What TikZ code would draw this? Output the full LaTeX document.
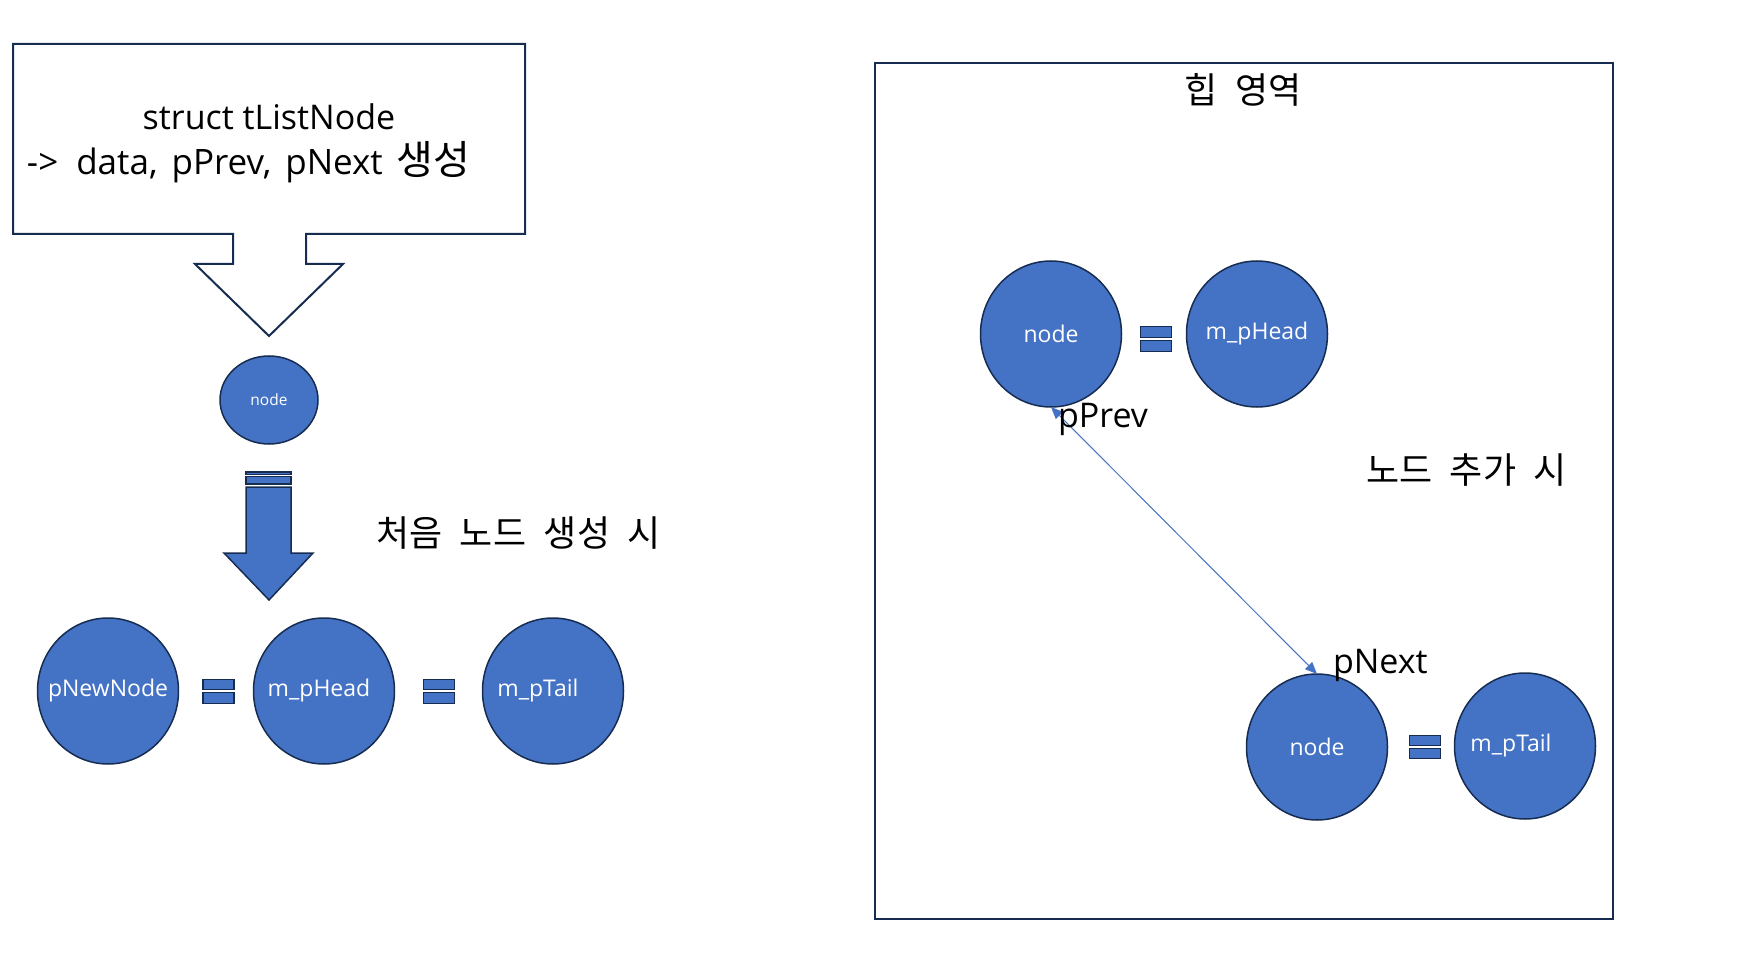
\documentclass[tikz,border=0pt]{standalone}
\usepackage{fontspec}
\setmainfont{Open Sans}
\newfontfamily\kr[WordSpace=2.2]{Noto Sans CJK KR}
\usetikzlibrary{arrows.meta,shapes.geometric,positioning}
\definecolor{nodeblue}{HTML}{4472C4}
\definecolor{navy}{HTML}{172C51}

\begin{document}
\begin{tikzpicture}[
  x=1pt, y=-1pt,
  every node/.style = {inner sep=0pt, outer sep=0pt},
  listnode/.style = {ellipse, draw=navy, line width=1.5pt, fill=nodeblue,
                     inner xsep=-14pt,
                     minimum width=141pt, minimum height=146pt,
                     text=white, font=\fontsize{23}{27}\selectfont},
  eqbar/.style = {rectangle, draw=navy, line width=1.2pt, fill=nodeblue,
                  minimum width=31pt, minimum height=10.5pt},
  outline/.style = {draw=navy, line width=2pt},
  blockarrow/.style = {draw=navy, line width=1.5pt, fill=nodeblue},
  ptrtext/.style = {anchor=base west, font=\fontsize{34}{38}\selectfont},
  krtext/.style = {anchor=base west, font=\kr\fontsize{36}{40}\selectfont},
  link/.style = {{Triangle[length=12pt,width=10pt]}-{Triangle[length=12pt,width=10pt]},
                 draw=nodeblue, line width=1pt}
]
\useasboundingbox (0,0) rectangle (1741,968);

% Left: struct box with open callout arrow
\draw[outline, fill=white] (13,44) -- (525,44) -- (525,234) -- (306,234) -- (306,264)
  -- (343,264) -- (269,336) -- (195,264) -- (233,264) -- (233,234) -- (13,234) -- cycle;
\node[anchor=base, font=\fontsize{34}{38}\selectfont] (structline) at (269,130)
  {struct tListNode};
\node[anchor=base west, font=\fontsize{35}{38}\selectfont] (fieldline) at (27,175)
  {->\hspace{18pt}data,\hspace{14pt}pPrev,\hspace{14pt}pNext\hspace{14pt}{\kr\fontsize{40}{42}\selectfont 생성}};

% Left: new node
\node[ellipse, draw=navy, line width=1.5pt, fill=nodeblue,
      minimum width=98pt, minimum height=88pt,
      text=white, font=\fontsize{15.5}{18}\selectfont] (newnode) at (269,400) {node};

% Left: striped down arrow
\draw[blockarrow] (246,472) rectangle (291,474.5);
\draw[blockarrow] (246,476.5) rectangle (291,484);
\draw[blockarrow] (246,487) -- (291,487) -- (291,553) -- (313,553) -- (269,600)
  -- (224,553) -- (246,553) -- cycle;
\node[krtext] (firsttext) at (376,546) {처음 노드 생성 시};

% Left: pNewNode = m_pHead = m_pTail
\node[listnode] (pnew) at (108,691) {pNewNode};
\node[listnode] (lhead) at (324,691) {\hspace*{-10pt}m\_pHead};
\node[listnode] (ltail) at (553,691) {\hspace*{-30pt}m\_pTail};
\node[eqbar] (eqAtop) at (218.5,684.5) {};
\node[eqbar] (eqAbot) at (218.5,698) {};
\node[eqbar] (eqBtop) at (439,684.5) {};
\node[eqbar] (eqBbot) at (439,698) {};

% Right: heap area
\node[outline, rectangle, minimum width=738pt, minimum height=856pt] (heap) at (1244,491) {};
\node[anchor=base, font=\kr\fontsize{36}{40}\selectfont] (heaptitle) at (1243,104) {힙 영역};

% Right: head node
\node[listnode] (hnode) at (1051,334) {node};
\node[listnode] (rhead) at (1257,334) {m\_pHead};
\node[eqbar] (eqCtop) at (1156,332) {};
\node[eqbar] (eqCbot) at (1156,346) {};

% Right: tail node
\node[listnode] (tnode) at (1317,747) {node};
\node[listnode] (rtail) at (1525,746) {\hspace*{-28pt}m\_pTail};
\node[eqbar] (eqDtop) at (1425,740.5) {};
\node[eqbar] (eqDbot) at (1425,753.5) {};

% Links between the two nodes
\draw[link] (hnode.south) -- (tnode.north);
\node[ptrtext] (prevtext) at (1058,427) {pPrev};
\node[ptrtext] (nexttext) at (1333,673) {pNext};
\node[krtext] (addtext) at (1366,483) {노드 추가 시};

\end{tikzpicture}
\end{document}
